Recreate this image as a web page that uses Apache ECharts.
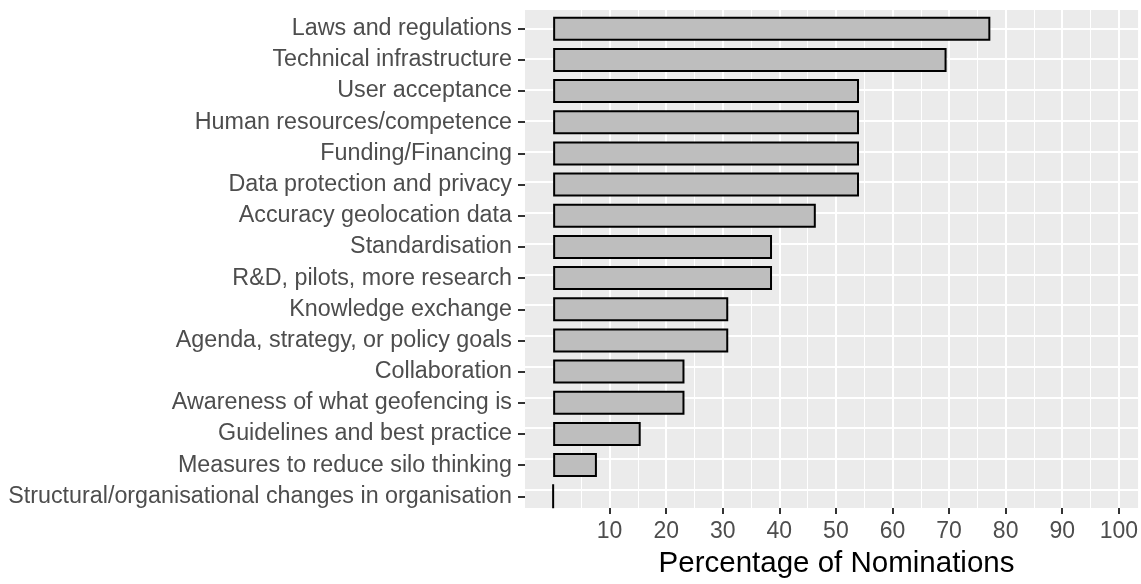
<!DOCTYPE html>
<html>
<head>
<meta charset="utf-8">
<script src="https://cdn.jsdelivr.net/npm/echarts@6/dist/echarts.min.js"></script>
<style>
html, body { margin: 0; padding: 0; background: #fff; }
#chart { width: 1141px; height: 584px; }
</style>
</head>
<body>
<div id="chart"></div>
<script>
// categories listed top to bottom, as in the picture
let categories = [
	'Laws and regulations',
	'Technical infrastructure',
	'User acceptance',
	'Human resources/competence',
	'Funding/Financing',
	'Data protection and privacy',
	'Accuracy geolocation data',
	'Standardisation',
	'R&D, pilots, more research',
	'Knowledge exchange',
	'Agenda, strategy, or policy goals',
	'Collaboration',
	'Awareness of what geofencing is',
	'Guidelines and best practice',
	'Measures to reduce silo thinking',
	'Structural/organisational changes in organisation'
];
let percentages = [76.9, 69.2, 53.8, 53.8, 53.8, 53.8, 46.2, 38.5, 38.5, 30.8, 30.8, 23.1, 23.1, 15.4, 7.7, 0];
let majorTicks = [10, 20, 30, 40, 50, 60, 70, 80, 90, 100];
let minorTicks = [5, 15, 25, 35, 45, 55, 65, 75, 85, 95];
let rowLines = [1, 2, 3, 4, 5, 6, 7, 8, 9, 10, 11, 12, 13, 14, 15, 16];

let chart = echarts.init(document.getElementById('chart'));
// the panel is cut off at the right edge of the picture
let xMin = -4.95, xMax = 103.4;
let option = {
	animation: false,
	textStyle: { fontFamily: 'Liberation Sans' },
	grid: [
		// grey panel, holds the grid lines
		{ left: 525, right: 0, top: 10, bottom: 69, show: true, backgroundColor: '#EBEBEB', borderWidth: 0 },
		// bars, inset so that rows sit where ggplot puts them
		{ left: 525, right: 0, top: 13.12, bottom: 72.12 }
	],
	xAxis: [
		{
			gridIndex: 0, type: 'value', min: xMin, max: xMax,
			axisLine: { show: false, onZero: false },
			axisTick: { show: true, customValues: majorTicks, length: 6, lineStyle: { color: '#333', width: 2 } },
			axisLabel: { customValues: majorTicks, color: '#4D4D4D', fontSize: 23, margin: 12 },
			splitLine: { show: true, lineStyle: { color: '#fff', width: 2 } },
			name: 'Percentage of Nominations',
			nameLocation: 'middle',
			nameGap: 41,
			nameTextStyle: { color: '#000', fontSize: 29.5, padding: [0, 0, 0, 10] }
		},
		{
			gridIndex: 0, type: 'value', min: xMin, max: xMax,
			axisLine: { show: false, onZero: false },
			axisTick: { show: false, customValues: minorTicks },
			axisLabel: { show: false },
			splitLine: { show: true, lineStyle: { color: '#fff', width: 1 } }
		},
		{ gridIndex: 1, type: 'value', min: xMin, max: xMax, show: false }
	],
	yAxis: [
		{
			gridIndex: 0, type: 'value', min: 0.4, max: 16.6, inverse: true,
			axisLine: { show: false, onZero: false },
			axisTick: { show: false, customValues: rowLines },
			axisLabel: { show: false },
			splitLine: { show: true, lineStyle: { color: '#fff', width: 2 } }
		},
		{
			gridIndex: 1, type: 'category', data: categories, inverse: true,
			axisLine: { show: false, onZero: false },
			axisTick: { show: true, alignWithLabel: true, length: 7, lineStyle: { color: '#333', width: 2 } },
			axisLabel: { color: '#4D4D4D', fontSize: 23.3, margin: 13 },
			splitLine: { show: false }
		}
	],
	series: [{
		type: 'bar',
		xAxisIndex: 2,
		yAxisIndex: 1,
		data: percentages,
		barWidth: 24,
		itemStyle: { color: '#BEBEBE', borderColor: '#000', borderWidth: 2 }
	}]
};
chart.setOption(option);
</script>
</body>
</html>
